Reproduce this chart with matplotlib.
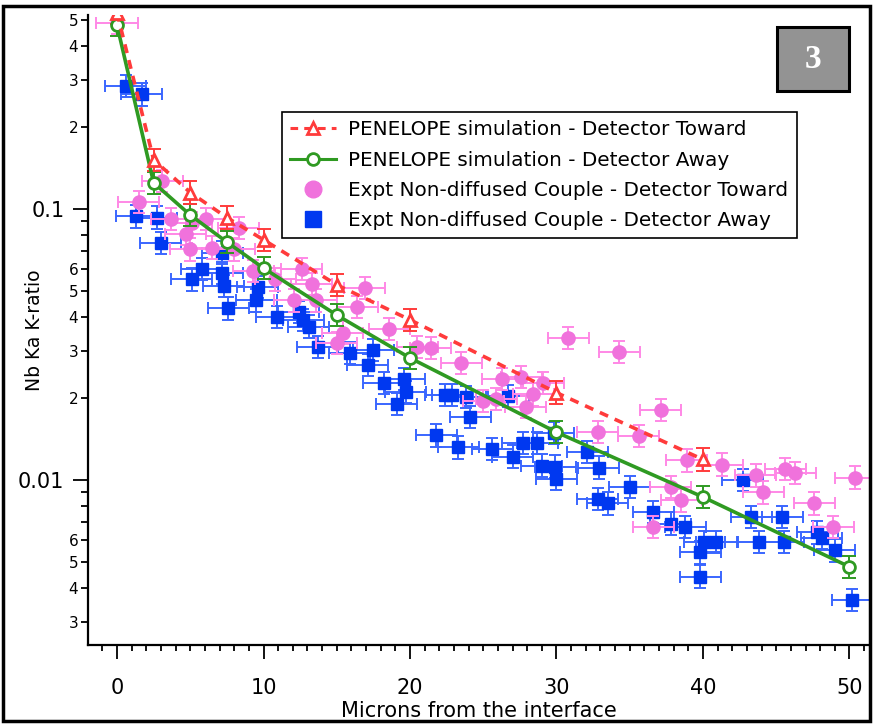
import numpy as np
import matplotlib
matplotlib.use("Agg")
import matplotlib.pyplot as plt
from matplotlib.lines import Line2D
from matplotlib.patches import Rectangle
from matplotlib.ticker import FixedLocator, FuncFormatter


# PENELOPE simulation - detector toward (red, dashed)
sim_tow_x = [0, 2.5, 5, 7.5, 10, 15, 20, 30, 40]
sim_tow_y = [0.53, 0.152, 0.115, 0.093, 0.077, 0.0525, 0.039, 0.021, 0.0119]

# PENELOPE simulation - detector away (green, solid)
sim_away_x = [0, 2.5, 5, 7.5, 10, 15, 20, 30, 40, 50]
sim_away_y = [0.477, 0.125, 0.095, 0.0755, 0.0605, 0.0406, 0.0282, 0.0150, 0.00865, 0.00478]

# Expt non-diffused couple - detector toward (pink circles)
exp_tow_x = [0.0, 1.5, 3.1, 3.7, 4.7, 5.1, 5.0, 6.1, 6.5, 8.0, 8.3, 9.3, 10.8, 12.1,
             12.6, 13.3, 13.6, 15.0, 15.4, 16.4, 16.9, 18.6, 20.5, 21.4, 23.5, 25.0,
             25.9, 26.3, 27.6, 27.9, 28.4, 29.1, 30.8, 32.8, 34.3, 35.6, 36.6, 37.1,
             37.8, 38.5, 38.9, 41.3, 43.6, 44.1, 45.6, 46.3, 47.6, 48.9, 50.4]
exp_tow_y = [0.485, 0.106, 0.127, 0.092, 0.081, 0.089, 0.071, 0.092, 0.072, 0.071,
             0.085, 0.059, 0.055, 0.046, 0.060, 0.053, 0.046, 0.032, 0.035, 0.0435,
             0.051, 0.036, 0.031, 0.0307, 0.027, 0.0196, 0.0199, 0.0236, 0.024, 0.0186,
             0.0207, 0.0228, 0.0334, 0.015, 0.0296, 0.0145, 0.0067, 0.0181, 0.0094,
             0.0084, 0.0118, 0.0114, 0.0104, 0.0090, 0.0110, 0.0106, 0.0082, 0.0067,
             0.0102]

# Expt non-diffused couple - detector away (blue squares)
exp_away_x = [0.6, 1.7, 1.3, 2.7, 3.0, 5.1, 5.8, 7.2, 7.2, 7.3, 7.6, 9.5, 9.6, 10.9,
              12.4, 12.7, 13.1, 13.7, 15.9, 17.1, 17.5, 18.2, 19.1, 19.6, 19.7, 21.8,
              22.4, 22.9, 23.3, 23.8, 24.1, 25.6, 26.7, 27.0, 27.7, 28.7, 29.0, 29.8,
              29.9, 30.0, 32.1, 32.8, 32.9, 33.5, 35.0, 36.6, 37.8, 38.8, 39.8, 39.8,
              40.1, 40.9, 42.7, 43.3, 43.8, 45.4, 45.5, 47.8, 48.1, 49.0, 50.2]
exp_away_y = [0.284, 0.265, 0.094, 0.093, 0.075, 0.055, 0.060, 0.069, 0.058, 0.052,
              0.043, 0.046, 0.0515, 0.040, 0.0417, 0.0389, 0.0368, 0.031, 0.0294,
              0.0266, 0.0302, 0.0228, 0.0191, 0.0236, 0.0211, 0.0146, 0.0206, 0.0206,
              0.0132, 0.0202, 0.0171, 0.0130, 0.0204, 0.0122, 0.0137, 0.0137, 0.0113,
              0.0149, 0.0112, 0.0101, 0.0127, 0.0085, 0.0111, 0.0082, 0.0094, 0.0076,
              0.0069, 0.0067, 0.0054, 0.0044, 0.0059, 0.0059, 0.0100, 0.0073, 0.0059,
              0.0073, 0.0059, 0.0064, 0.0061, 0.0055, 0.0036]

x_err = 1.4          # microns
y_err_frac = 0.10    # relative error on k-ratio

labels = ["PENELOPE simulation - Detector Toward",
          "PENELOPE simulation - Detector Away",
          "Expt Non-diffused Couple - Detector Toward",
          "Expt Non-diffused Couple - Detector Away"]

red = "#ff3b3b"
green = "#2f9a22"
pink = "#f072dc"
pink_bar = "#ff88e6"
blue = "#0038f0"
blue_bar = "#3a66ff"

plt.rcParams["font.family"] = ["DejaVu Sans"]

W, H = 873, 724
fig = plt.figure(figsize=(W / 100, H / 100), dpi=100)
ax = fig.add_axes([88 / W, 79 / H, 782 / W, 630 / H])


def yerr_of(y):
    y = np.asarray(y)
    return [y - y / (1 + y_err_frac), y * (1 + y_err_frac) - y]


# experimental points with x and y error bars
ax.errorbar(exp_away_x, exp_away_y, xerr=x_err, yerr=yerr_of(exp_away_y), fmt="s",
            ms=8, mfc=blue, mec=blue, ecolor=blue_bar, elinewidth=1.4, capsize=4.5,
            capthick=1.4, zorder=2)
ax.errorbar(exp_tow_x, exp_tow_y, xerr=x_err, yerr=yerr_of(exp_tow_y), fmt="o",
            ms=9.5, mfc=pink, mec=pink, ecolor=pink_bar, elinewidth=1.4, capsize=4.5,
            capthick=1.4, zorder=3)

# simulations
ax.errorbar(sim_away_x, sim_away_y, yerr=yerr_of(sim_away_y), fmt="none",
            ecolor=green, elinewidth=1.4, capsize=5, capthick=1.4, zorder=4)
ax.plot(sim_away_x, sim_away_y, "-", color=green, lw=2.6, marker="o", ms=8.5,
        mfc="white", mec=green, mew=2, zorder=5)
ax.errorbar(sim_tow_x, sim_tow_y, yerr=yerr_of(sim_tow_y), fmt="none",
            ecolor=red, elinewidth=1.4, capsize=5, capthick=1.4, zorder=4)
ax.plot(sim_tow_x, sim_tow_y, "--", color=red, lw=2.6, dashes=(2.5, 2), marker="^",
        ms=9, mfc="white", mec=red, mew=2, zorder=5)

# axes
ax.set_yscale("log")
ax.set_xlim(-1.98, 51.4)
ax.set_ylim(0.00246, 0.52)
ax.spines["top"].set_visible(False)
ax.spines["right"].set_visible(False)
ax.spines["left"].set_linewidth(1.6)
ax.spines["bottom"].set_linewidth(1.6)

ax.xaxis.set_major_locator(FixedLocator([0, 10, 20, 30, 40, 50]))
ax.xaxis.set_minor_locator(FixedLocator(np.arange(-1, 52, 1)))
ax.tick_params(axis="x", which="major", length=10, width=1.3, pad=14, labelsize=15)
ax.tick_params(axis="x", which="minor", length=4.5, width=1.3)

major_y = [0.01, 0.1]
minor_y = [m * d for d in (0.001, 0.01, 0.1) for m in range(2, 10)]
ax.yaxis.set_major_locator(FixedLocator(major_y))
ax.yaxis.set_minor_locator(FixedLocator(minor_y))
ax.yaxis.set_major_formatter(FuncFormatter(lambda v, p: "%g" % v))


def minor_fmt(v, p):
    lead = int(round(v / 10 ** np.floor(np.log10(v) + 1e-9)))
    return str(lead) if lead <= 6 else ""


ax.yaxis.set_minor_formatter(FuncFormatter(minor_fmt))
ax.tick_params(axis="y", which="major", length=11, width=1.3, pad=6, labelsize=15)
ax.tick_params(axis="y", which="minor", length=5, width=1.3, pad=2, labelsize=11)

ax.set_xlabel("Microns from the interface", fontsize=15)
ax.xaxis.set_label_coords(0.5, -(711 - 645) / 630, transform=ax.transAxes)
ax.xaxis.label.set_va("center")
ax.set_ylabel("Nb Ka K-ratio", fontsize=13.5)
ax.yaxis.set_label_coords(-(88 - 35) / 782, (645 - 330) / 630, transform=ax.transAxes)
ax.yaxis.label.set_va("center")

# legend with proxy handles
handles = [
    Line2D([], [], ls="--", dashes=(2.5, 2), color=red, lw=2.2, marker="^", ms=9,
           mfc="white", mec=red, mew=2),
    Line2D([], [], ls="-", color=green, lw=2.2, marker="o", ms=8.5, mfc="white",
           mec=green, mew=2),
    Line2D([], [], ls="none", marker="o", ms=12, mfc=pink, mec=pink),
    Line2D([], [], ls="none", marker="s", ms=11, mfc=blue, mec=blue),
]
leg = ax.legend(handles, labels, loc="upper left",
                bbox_to_anchor=(282 / W, 1 - 112 / H), bbox_transform=fig.transFigure,
                fontsize=14.4, frameon=True, fancybox=False, framealpha=1,
                edgecolor="black", handlelength=2.3, handletextpad=0.6,
                labelspacing=0.56, borderpad=0.42, borderaxespad=0)
leg.get_frame().set_linewidth(1.2)

# "3" panel tag
fig.patches.append(Rectangle((777 / W, 1 - 91 / H), 72 / W, 64 / H,
                             transform=fig.transFigure, facecolor="#939393",
                             edgecolor="black", lw=2.2))
fig.text(813 / W, 1 - 59 / H, "3", color="white", fontsize=24, fontweight="bold",
         family=["Liberation Serif", "DejaVu Serif"], ha="center", va="center")

# black frame around the whole picture
fig.patches.append(Rectangle((3 / W, 3 / H), 867 / W, 715 / H,
                             transform=fig.transFigure, fill=False,
                             edgecolor="black", lw=2.5))

fig.savefig("out.png", dpi=100)
